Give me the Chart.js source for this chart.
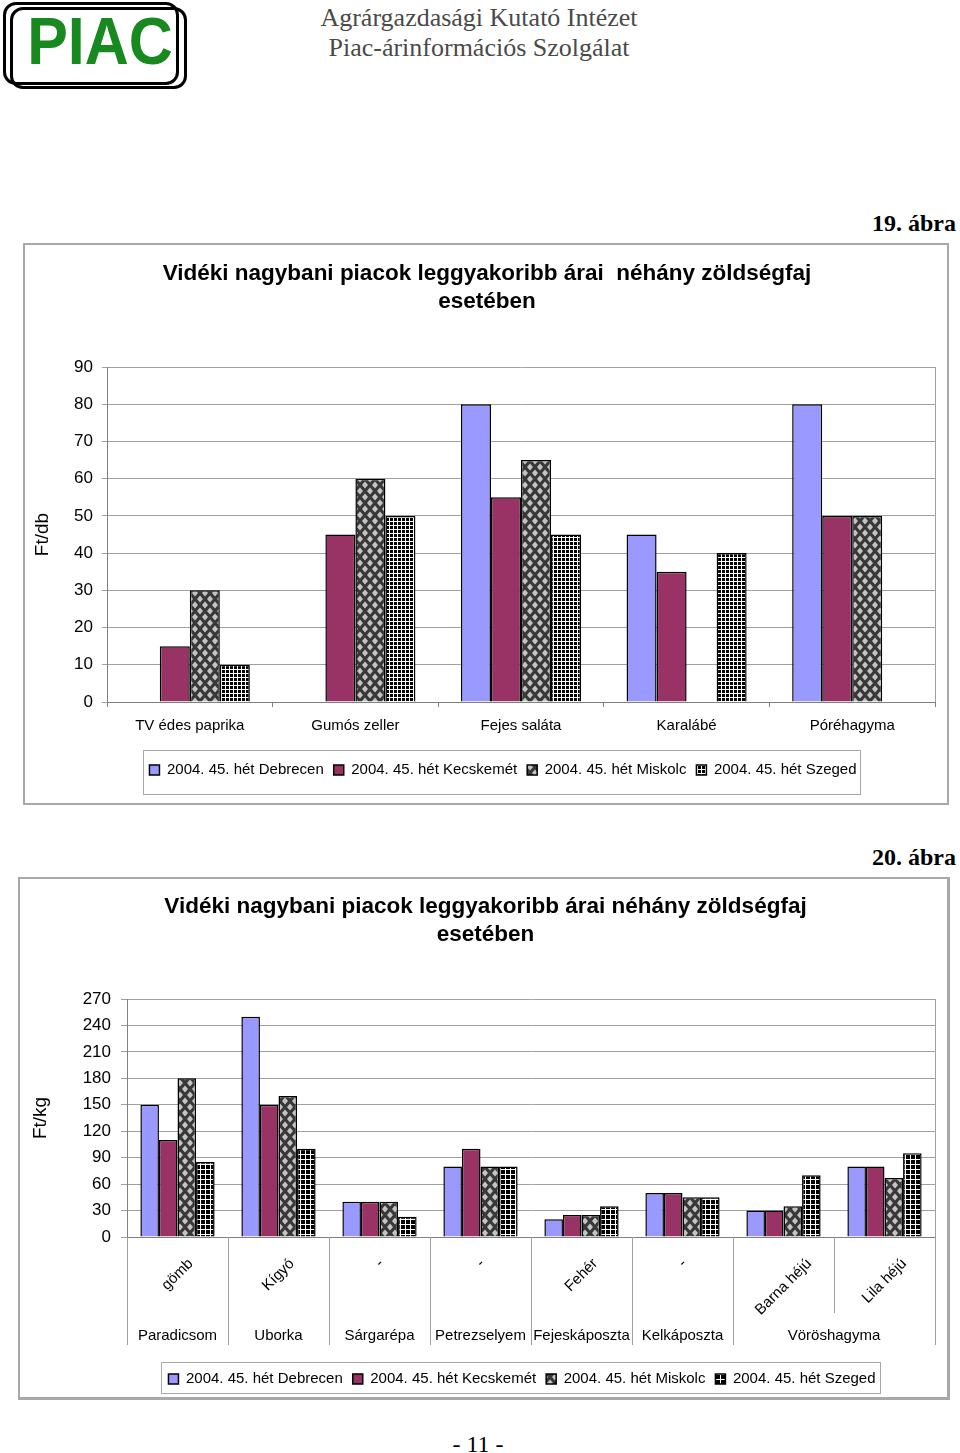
<!DOCTYPE html>
<html>
<head>
<meta charset="utf-8">
<script src="https://cdn.jsdelivr.net/npm/chart.js@4/dist/chart.umd.min.js"></script>
<style>
  html, body { margin:0; padding:0; background:#fff; }
  body { width:960px; height:1453px; position:relative; overflow:hidden; }
  .abs { position:absolute; white-space:nowrap; }
  .serif { font-family:"Liberation Serif","Times New Roman",serif; }
  .rr { position:absolute; border:3px solid #000; border-radius:13px; box-sizing:border-box; }
  .box { position:absolute; border:2px solid #a8a8a8; box-sizing:border-box; background:#fff; }
  canvas { position:absolute; }
</style>
</head>
<body>
<!-- header -->
<div class="rr" style="left:3px;top:2px;width:176px;height:83px;"></div>
<div class="rr" style="left:10px;top:7px;width:177px;height:82px;"></div>
<div class="abs" style="left:20px;top:6px;width:160px;height:70px;line-height:70px;text-align:center;font-family:'Liberation Sans',Arial,sans-serif;font-weight:bold;font-size:67px;color:#17891f;transform:scaleX(0.91);">PIAC</div>
<div class="abs serif" style="left:279px;top:3px;width:400px;text-align:center;font-size:26px;line-height:30px;color:#4a4a4a;">Agrárgazdasági Kutató Intézet<br>Piac-árinformációs Szolgálat</div>
<div class="abs serif" style="right:4px;top:208px;font-size:24px;line-height:30px;font-weight:bold;color:#000;">19. ábra</div>
<div class="abs serif" style="right:4px;top:842px;font-size:24px;line-height:30px;font-weight:bold;color:#000;">20. ábra</div>
<div class="abs serif" style="left:428px;top:1429px;width:100px;text-align:center;font-size:24px;line-height:30px;color:#000;">- 11 -</div>

<div class="box" style="left:23px;top:243px;width:926px;height:562px;"></div>
<canvas id="c1" width="922" height="558" style="left:25px;top:245px;"></canvas>

<div class="box" style="left:18px;top:877px;width:932px;height:523px;border-right-width:3px;border-bottom-width:3px;"></div>
<canvas id="c2" width="928" height="519" style="left:20px;top:879px;"></canvas>

<script>
// ---------- DATA ----------
const seriesNames = ['2004. 45. hét Debrecen', '2004. 45. hét Kecskemét', '2004. 45. hét Miskolc', '2004. 45. hét Szeged'];

// Chart 19
const title1 = ['Vidéki nagybani piacok leggyakoribb árai  néhány zöldségfaj', 'esetében'];
const yTitle1 = 'Ft/db';
const categories1 = ['TV édes paprika', 'Gumós zeller', 'Fejes saláta', 'Karalábé', 'Póréhagyma'];
const debrecen1  = [null, null, 80, 45, 80];
const kecskemet1 = [15, 45, 55, 35, 50];
const miskolc1   = [30, 60, 65, null, 50];
const szeged1    = [10, 50, 45, 40, null];
const yMax1 = 90, yStep1 = 10;

// Chart 20
const title2 = ['Vidéki nagybani piacok leggyakoribb árai néhány zöldségfaj', 'esetében'];
const yTitle2 = 'Ft/kg';
const subLabels2 = ['gömb', 'Kígyó', '-', '-', 'Fehér', '-', 'Barna héjú', 'Lila héjú'];
const groupLabels2 = ['Paradicsom', 'Uborka', 'Sárgarépa', 'Petrezselyem', 'Fejeskáposzta', 'Kelkáposzta', 'Vöröshagyma'];
const groupSpans2 = [1, 1, 1, 1, 1, 1, 2];
const debrecen2  = [150, 250, 40, 80, 20, 50, 30, 80];
const kecskemet2 = [110, 150, 40, 100, 25, 50, 30, 80];
const miskolc2   = [180, 160, 40, 80, 25, 45, 35, 67];
const szeged2    = [85, 100, 23, 80, 35, 45, 70, 95];
const yMax2 = 270, yStep2 = 30;

// ---------- STYLE ----------
const F = "'Liberation Sans', Arial, sans-serif";
const BLUE = '#9999ff', PLUM = '#993366';

function diamondPattern(w, h, rx, ry) {
  const c = document.createElement('canvas'); c.width = w; c.height = h;
  const g = c.getContext('2d');
  g.fillStyle = '#383838'; g.fillRect(0, 0, w, h);
  g.fillStyle = '#c4c4c4';
  const d = (x, y) => { g.beginPath(); g.moveTo(x, y - ry); g.lineTo(x + rx, y); g.lineTo(x, y + ry); g.lineTo(x - rx, y); g.closePath(); g.fill(); };
  d(w / 2, h / 2); d(0, 0); d(w, 0); d(0, h); d(w, h);
  return g.createPattern(c, 'repeat');
}
function gridPattern(s) {
  const c = document.createElement('canvas'); c.width = s; c.height = s;
  const g = c.getContext('2d');
  g.fillStyle = '#000'; g.fillRect(0, 0, s, s);
  g.fillStyle = '#fff'; g.fillRect(0, 0, s, 1); g.fillRect(0, 0, 1, s);
  return g.createPattern(c, 'repeat');
}

function makeDatasets(vals, diamond, grid) {
  const fills = [BLUE, PLUM, diamond, grid];
  return vals.map((v, i) => ({
    label: seriesNames[i], data: v,
    backgroundColor: fills[i], borderColor: '#000', borderWidth: 1.5
  }));
}

// legend / title: shift horizontally and draw a frame around the legend
const legendFrame = {
  id: 'legendFrame',
  afterUpdate(chart, args, o) {
    const L = chart.legend;
    if (L) {
      L.fit();   // rebuild hit boxes from scratch
      const w = L.right - L.left;
      L.left = o.centerX - w / 2; L.right = o.centerX + w / 2;
      L.adjustHitBoxes();
    }
    const T = chart.titleBlock;
    if (T && o.titleDx) { T.left += o.titleDx; T.right += o.titleDx; }
  },
  afterDraw(chart, args, o) {
    const L = chart.legend; if (!L || !L.legendHitBoxes.length) return;
    const hb = L.legendHitBoxes;
    const l = Math.min(...hb.map(h => h.left)), r = Math.max(...hb.map(h => h.left + h.width));
    const cy = hb[0].top + hb[0].height / 2;
    const ctx = chart.ctx; ctx.save();
    ctx.strokeStyle = '#a8a8a8'; ctx.lineWidth = 1;
    ctx.strokeRect(Math.round(l - o.padL) + 0.5, Math.round(cy - o.padT) + 0.5, Math.round(r - l + o.padL + o.padR), Math.round(o.padT + o.padB));
    ctx.restore();
  }
};
const plotRight = {
  id: 'plotRight',
  beforeDatasetsDraw(chart) {
    const {ctx, chartArea: a} = chart; ctx.save();
    ctx.strokeStyle = '#a0a0a0'; ctx.lineWidth = 1;
    ctx.beginPath(); ctx.moveTo(Math.round(a.right) + 0.5, a.top); ctx.lineTo(Math.round(a.right) + 0.5, a.bottom); ctx.stroke();
    ctx.restore();
  }
};

// ---------- CHART 19 ----------
const c1 = document.getElementById('c1');
new Chart(c1, {
  type: 'bar',
  data: { labels: categories1, datasets: makeDatasets([debrecen1, kecskemet1, miskolc1, szeged1], diamondPattern(10, 12, 3, 3.4), gridPattern(4)) },
  options: {
    responsive: false, animation: false, devicePixelRatio: 1,
    categoryPercentage: 0.725, barPercentage: 1,
    layout: { padding: { left: 0, right: 12, top: 0, bottom: 15.5 } },
    plugins: {
      title: { display: true, text: title1, color: '#000', font: { family: F, size: 22.5, weight: 'bold', lineHeight: 28 / 22.5 }, padding: { top: 15, bottom: 51 } },
      legend: { position: 'bottom', labels: { color: '#000', font: { family: F, size: 15 }, boxWidth: 10, boxHeight: 10, padding: 10 } },
      tooltip: { enabled: false },
      legendFrame: { centerX: 478, padL: 6, padR: 4, padT: 20, padB: 24, titleDx: 7 }
    },
    scales: {
      x: {
        grid: { drawOnChartArea: false, tickLength: 5, color: '#808080' },
        border: { color: '#808080' },
        ticks: { color: '#000', font: { family: F, size: 15 }, padding: 10, maxRotation: 0, autoSkip: false },
        afterFit: s => { s.height = 50.5; }
      },
      y: {
        min: 0, max: yMax1,
        ticks: { stepSize: yStep1, color: '#000', font: { family: F, size: 17 }, padding: 9 },
        grid: { color: '#a0a0a0', tickLength: 5 },
        border: { color: '#808080' },
        title: { display: true, text: yTitle1, color: '#000', font: { family: F, size: 19 }, padding: { top: 6, bottom: 0 } },
        afterFit: s => { s.width = 82; }
      }
    }
  },
  plugins: [legendFrame, plotRight]
});

// ---------- CHART 20 ----------
const multiLabels = {
  id: 'multiLabels',
  afterDraw(chart, args, o) {
    const {ctx, chartArea: a} = chart; const xs = chart.scales.x;
    const n = chart.data.labels.length;
    const centers = chart.data.labels.map((_, i) => xs.getPixelForValue(i));
    const bounds = [a.left];
    for (let i = 0; i < n - 1; i++) bounds.push((centers[i] + centers[i + 1]) / 2);
    bounds.push(a.right);
    const groupEdges = new Set([0]); let acc = 0;
    groupSpans2.forEach(s => { acc += s; groupEdges.add(acc); });
    ctx.save();
    ctx.strokeStyle = '#a0a0a0'; ctx.lineWidth = 1;
    bounds.forEach((x, i) => {
      const xx = Math.round(x) + 0.5;
      ctx.beginPath(); ctx.moveTo(xx, a.bottom);
      ctx.lineTo(xx, a.bottom + (groupEdges.has(i) ? o.longLen : o.shortLen)); ctx.stroke();
    });
    ctx.fillStyle = '#000';
    ctx.font = '15px ' + F;
    subLabels2.forEach((t, i) => {
      const tw = ctx.measureText(t).width;
      const bh = (tw + 15) * Math.SQRT1_2;
      ctx.save();
      ctx.translate(centers[i], a.bottom + o.subGap + bh / 2);
      ctx.rotate(-Math.PI / 4);
      ctx.textAlign = 'center'; ctx.textBaseline = 'middle';
      ctx.fillText(t, 0, 0);
      ctx.restore();
    });
    ctx.textAlign = 'center'; ctx.textBaseline = 'middle';
    let start = 0;
    groupLabels2.forEach((g, k) => {
      const span = groupSpans2[k];
      const cx = (centers[start] + centers[start + span - 1]) / 2;
      ctx.fillText(g, cx, a.bottom + o.groupGap);
      start += span;
    });
    ctx.restore();
  }
};

const c2 = document.getElementById('c2');
new Chart(c2, {
  type: 'bar',
  data: { labels: subLabels2.slice(), datasets: makeDatasets([debrecen2, kecskemet2, miskolc2, szeged2], diamondPattern(10, 12, 3, 3.4), gridPattern(5)) },
  options: {
    responsive: false, animation: false, devicePixelRatio: 1,
    categoryPercentage: 0.735, barPercentage: 1,
    layout: { padding: { left: 0, right: 13, top: 0, bottom: 1.5 } },
    plugins: {
      title: { display: true, text: title2, color: '#000', font: { family: F, size: 22.5, weight: 'bold', lineHeight: 28 / 22.5 }, padding: { top: 14, bottom: 50 } },
      legend: { position: 'bottom', labels: { color: '#000', font: { family: F, size: 15 }, boxWidth: 10, boxHeight: 10, padding: 10 } },
      tooltip: { enabled: false },
      legendFrame: { centerX: 502, padL: 7, padR: 5, padT: 17, padB: 14, titleDx: 8 },
      multiLabels: { subGap: 19, groupGap: 99, longLen: 108, shortLen: 76 }
    },
    scales: {
      x: {
        grid: { drawOnChartArea: false, drawTicks: false },
        border: { color: '#808080' },
        ticks: { display: false },
        afterFit: s => { s.height = 124.5; }
      },
      y: {
        min: 0, max: yMax2,
        ticks: { stepSize: yStep2, color: '#000', font: { family: F, size: 17 }, padding: 10 },
        grid: { color: '#a0a0a0', tickLength: 6 },
        border: { color: '#808080' },
        title: { display: true, text: yTitle2, color: '#000', font: { family: F, size: 19 }, padding: { top: 9, bottom: 0 } },
        afterFit: s => { s.width = 107; }
      }
    }
  },
  plugins: [legendFrame, plotRight, multiLabels]
});
</script>
</body>
</html>
